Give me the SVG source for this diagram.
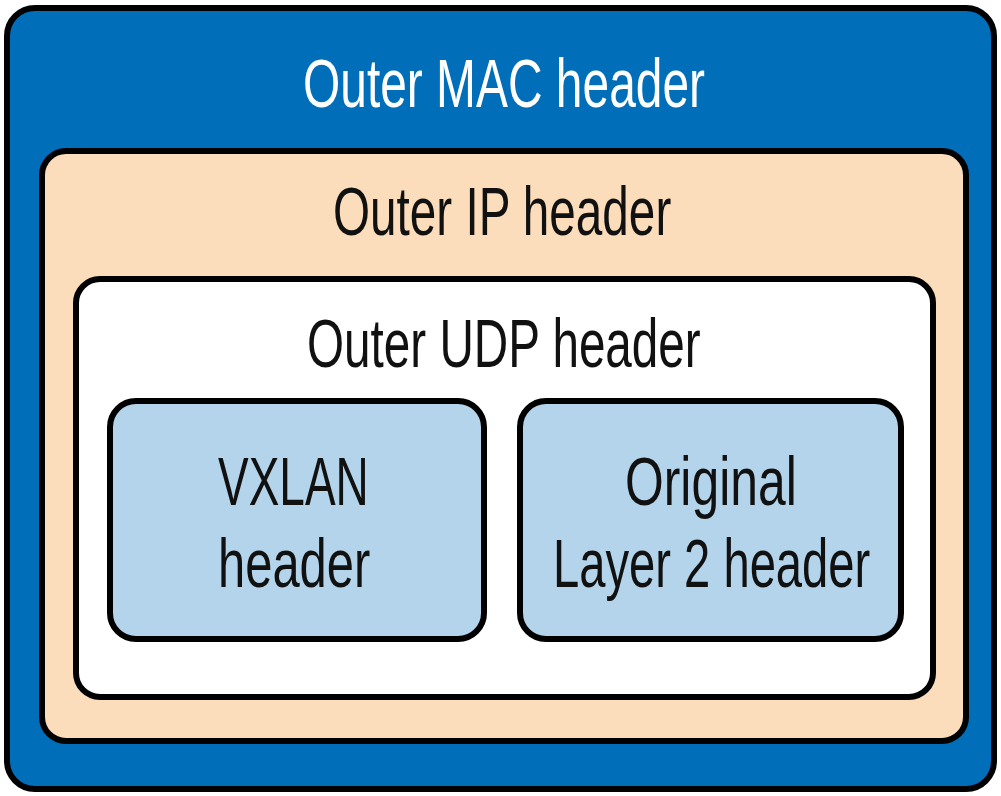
<svg xmlns="http://www.w3.org/2000/svg" width="1001" height="796" viewBox="0 0 1001 796">
<style>
.box{stroke:#000;stroke-width:6}
.t{font-family:"Liberation Sans",Arial,sans-serif;font-size:68px;fill:#111}
</style>
<rect width="1001" height="796" fill="#fff"/>
<g id="outer-mac">
<rect class="box" x="7" y="8" width="987" height="781" rx="28" fill="#006EB9"/>
<text class="t" transform="translate(303 107) scale(0.75 1)" x="0" y="0" textLength="536" lengthAdjust="spacingAndGlyphs" style="fill:#fff">Outer MAC header</text>
</g>
<g id="outer-ip">
<rect class="box" x="42" y="151" width="924" height="590" rx="24" fill="#FCDDBB"/>
<text class="t" transform="translate(333 235) scale(0.75 1)" x="0" y="0" textLength="451" lengthAdjust="spacingAndGlyphs">Outer IP header</text>
</g>
<g id="outer-udp">
<rect class="box" x="76" y="279" width="857" height="418" rx="24" fill="#fff"/>
<text class="t" transform="translate(307 367) scale(0.75 1)" x="0" y="0" textLength="525" lengthAdjust="spacingAndGlyphs">Outer UDP header</text>
</g>
<g id="vxlan">
<rect class="box" x="110" y="401" width="374" height="238" rx="26" fill="#B3D4EA"/>
<text class="t" transform="translate(218 505) scale(0.75 1)" x="0" y="0" textLength="201" lengthAdjust="spacingAndGlyphs">VXLAN</text>
<text class="t" transform="translate(218 587) scale(0.75 1)" x="0" y="0" textLength="203" lengthAdjust="spacingAndGlyphs">header</text>
</g>
<g id="original-l2">
<rect class="box" x="520" y="401" width="381" height="238" rx="26" fill="#B3D4EA"/>
<text class="t" transform="translate(625 505) scale(0.75 1)" x="0" y="0" textLength="229" lengthAdjust="spacingAndGlyphs">Original</text>
<text class="t" transform="translate(553 587) scale(0.75 1)" x="0" y="0" textLength="423" lengthAdjust="spacingAndGlyphs">Layer 2 header</text>
</g>
<g id="connectors"/>
</svg>
